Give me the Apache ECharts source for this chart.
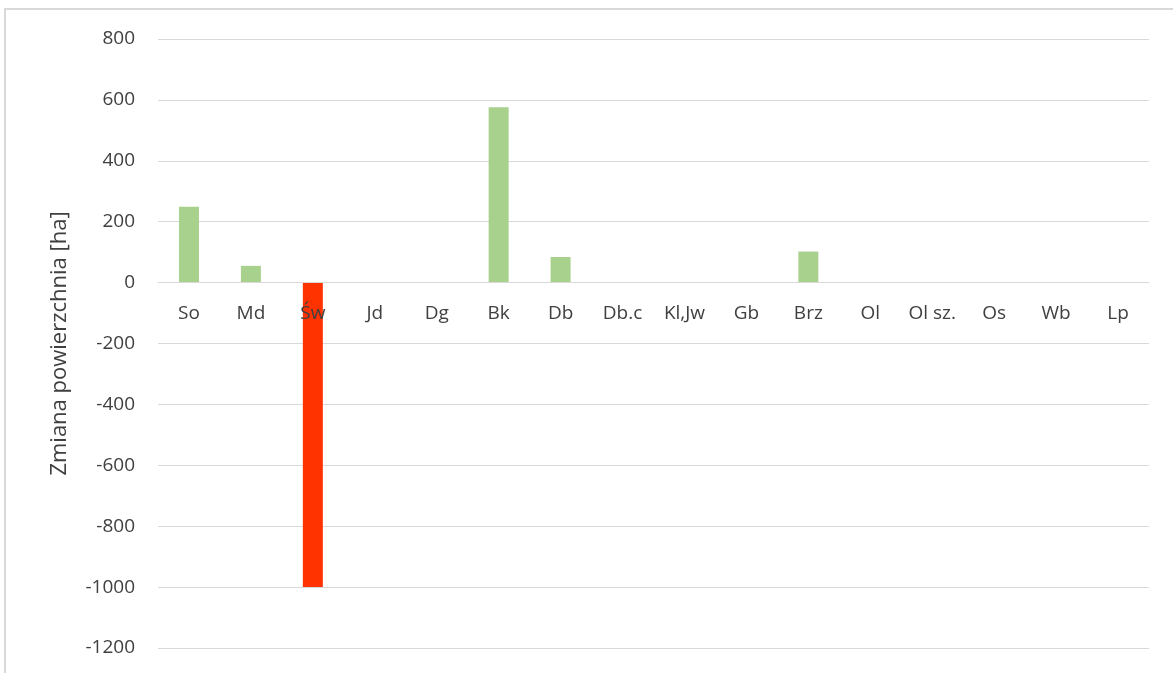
<!DOCTYPE html>
<html><head><meta charset="utf-8">
<script src="https://cdn.jsdelivr.net/npm/echarts@6/dist/echarts.min.js"></script>
<style>html,body{margin:0;padding:0;background:#fff}#c{width:1173px;height:673px}</style>
</head><body><div id="c"></div>
<script>
const categories = ['So','Md','Św','Jd','Dg','Bk','Db','Db.c','Kl,Jw','Gb','Brz','Ol','Ol sz.','Os','Wb','Lp'];
const values = [249, 55, -1000, 0, 2, 576, 84, 0, 2, 0, 102, -1, 0, 0, 0, 0];
const yTicks = {min: -1200, max: 800, interval: 200};
const yName = 'Zmiana powierzchnia [ha]';

const chart = echarts.init(document.getElementById('c'));
const font = '"Open Sans", "Liberation Sans", sans-serif';
const gridTop = 39, gridBottom = 25, H = 673;
const plotH = H - gridTop - gridBottom;
const zeroFromBottom = plotH * (0 - yTicks.min) / (yTicks.max - yTicks.min);
chart.setOption({
  animation: false,
  backgroundColor: '#fff',
  graphic: [{type:'rect', shape:{x:5, y:9, width:1200, height:700}, style:{fill:'none', stroke:'#d9d9d9', lineWidth:2}, silent:true}],
  grid: {left:158, right:24, top:gridTop, bottom:gridBottom, containLabel:false, outerBoundsMode:'none'},
  xAxis: {
    type:'category', data: categories, position:'bottom', offset: -zeroFromBottom, z: 5,
    axisLine:{onZero:false, lineStyle:{color:'#d9d9d9', width:1}},
    axisTick:{show:false},
    axisLabel:{interval:0, margin:21, fontSize:19, color:'#404040', fontFamily:font, hideOverlap:false}
  },
  yAxis: {
    type:'value', min:yTicks.min, max:yTicks.max, interval:yTicks.interval,
    name: yName, nameLocation:'middle', nameGap:87,
    nameTextStyle:{fontSize:22, color:'#404040', fontFamily:font},
    axisLine:{show:false}, axisTick:{show:false},
    axisLabel:{margin:23, fontSize:19, color:'#404040', fontFamily:font, formatter: v => String(v)},
    splitLine:{lineStyle:{color:'#d9d9d9', width:1}}
  },
  series: [{
    type:'bar', data: values, barWidth:20, z: 2,
    itemStyle:{color: p => p.value < 0 ? '#ff3300' : '#a9d18e'}
  }]
});
</script></body></html>
